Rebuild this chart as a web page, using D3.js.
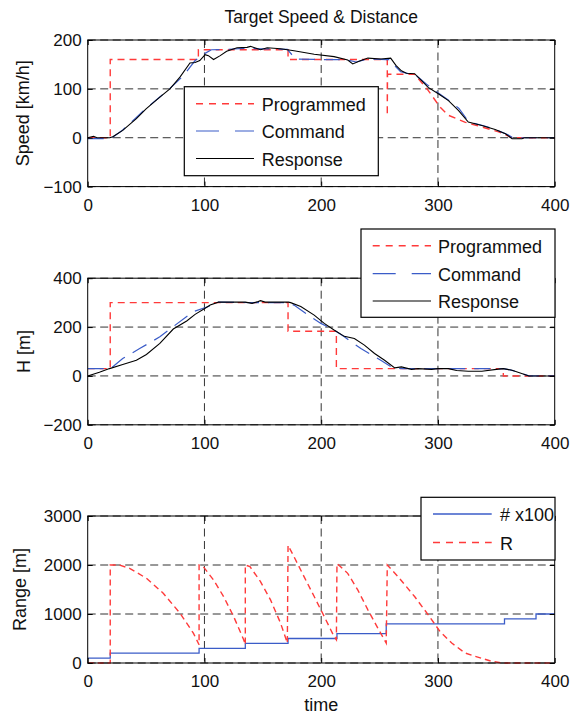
<!DOCTYPE html>
<html>
<head>
<meta charset="utf-8">
<script src="https://cdn.jsdelivr.net/npm/d3@7"></script>
<style>
  html, body { margin: 0; padding: 0; background: #fff; }
  svg { display: block; font-family: "Liberation Sans", Arial, Helvetica, sans-serif; }
</style>
</head>
<body>
<svg id="chart" width="581" height="713"></svg>
<script>
// ---- Data: time [s] / value pairs per series ----
const timeTicks = [0, 100, 200, 300, 400];

// Panel 1: speed [km/h]
const speedTicks = [-100, 0, 100, 200];
const speedProgrammed = [[0,0],[19.3,0],[19.3,160],[94.8,160],[94.8,180],[171.6,180],[171.6,160],[256.6,160],[256.6,45],[256.8,130],[280,130],[291.6,97],[301.7,63],[308.9,46],[323,32],[337.6,22],[352,12],[363.5,0],[400,0]];
const speedCommand = [[0,-2],[19,-2],[22,2],[30,16],[41,40],[50,60],[62,84],[70,100],[82,127],[92,158],[96,165],[100,172],[106,180],[120,181],[135,183],[150,182],[171,181],[178,161],[200,160],[220,160],[230,155],[240,161],[256,160],[259,160],[262,150],[268,135],[275,131],[280,130],[290,110],[300,92],[310,75],[318,60],[324,40],[330,30],[340,24],[350,16],[360,6],[364,0],[400,0]];
const speedResponse = [[0,0],[5,3],[8,0],[19,0],[21.5,2],[30,15],[41.7,39],[50,59],[61.8,83],[70.4,100],[79,124],[87.6,153],[92,154],[96,158],[100.6,170],[103.4,168],[107.8,160],[113.5,168],[119,177],[127.9,184],[136.5,185],[139.4,187],[143,184],[148,180],[153.7,184],[165.2,182],[176.7,178],[194,171],[211,166],[222.7,159],[227,151],[234,158],[240,163],[251,161],[259.5,163],[264,148],[268.7,137],[273,132],[280,131],[286,117],[291.6,103],[300.3,90],[309,76],[317.5,56],[326,32],[337.6,25],[349,17],[357.8,8],[363.5,-2],[372,-2],[374,0],[400,0]];

// Panel 2: distance H [m]
const heightTicks = [-200, 0, 200, 400];
const heightProgrammed = [[0,30],[19.3,30],[19.3,300],[171.6,300],[171.6,183],[213,183],[213,30],[356,30],[356,0],[400,0]];
const heightCommand = [[0,30],[19,30],[22,40],[30,71],[44.5,112],[61.8,160],[73,201],[90.5,263],[103.4,284],[110.6,302],[140,300],[171,300],[176.7,290],[191,242],[199.7,215],[211,188],[219.8,160],[234,112],[251,64],[261.5,33],[270,30],[356,30],[362,25],[378,0],[400,0]];
const heightResponse = [[0,0],[10,15],[18.7,30],[30,47],[41.7,64],[50.3,88],[61.8,133],[73.3,192],[84.8,225],[92,252],[100.6,277],[104.9,290],[112,302],[135,302],[140.8,297],[145,303],[148,308],[152,302],[172,302],[173.8,300],[182.5,284],[194,249],[202.6,215],[211,188],[219.8,162],[228.4,153],[237,126],[245.7,92],[254.3,64],[263,33],[268.7,37],[277.3,27],[283,30],[294.5,27],[300,30],[309,30],[316,22],[326,19],[337.6,19],[350,27],[356,30],[363.5,23],[378,0],[400,0]];

// Panel 3: range [m]
const rangeTicks = [0, 1000, 2000, 3000];
const countSteps = [[0,100],[19.3,200],[95.4,300],[135,400],[171.6,500],[213.5,600],[255.7,800],[357,900],[384,1000],[400,1000]];
const rangeR = [[0,0],[19.3,0],[19.3,2000],[27,2000],[35.9,1932],[50.3,1729],[64.7,1424],[79,1017],[90.5,610],[95.4,373],[95.4,2000],[99,1966],[107.8,1695],[116.4,1356],[125,949],[133.6,475],[135,373],[135,2000],[139,1966],[148,1661],[156.6,1288],[165.2,814],[171,407],[171.6,2400],[176.7,2170],[185.3,1763],[194,1356],[202.6,949],[211,542],[213,475],[213.5,2030],[222.7,1830],[231.3,1492],[240,1085],[248.5,712],[255.7,407],[256.6,2000],[265.8,1763],[280,1356],[291.7,983],[301.7,644],[311.8,407],[323.3,203],[331.9,136],[346,34],[355,0],[400,0]];

// ---- Styles ----
const RED = "#ff3a3a", BLUE = "#3b5cc8", BLACK = "#000";
const styles = {
  programmed: { color: RED, width: 1.4, dash: "7,5", legendDash: "7,6" },
  command: { color: BLUE, width: 1.2, dash: "16,9", legendDash: "23,16" },
  response: { color: BLACK, width: 1.1, dash: null, legendDash: null },
  count: { color: BLUE, width: 1.3, dash: null, legendDash: null, curve: d3.curveStepAfter },
  range: { color: RED, width: 1.4, dash: "6,4", legendDash: "7,6" }
};

const panels = [
  { top: 40, bottom: 186.6, domain: [-100, 200], ticks: speedTicks, ylabel: "Speed [km/h]", ylabelX: 29,
    series: [["programmed", speedProgrammed], ["command", speedCommand], ["response", speedResponse]],
    legend: { x0: 184.3, x1: 378.3, y0: 86.7, y1: 175.7, lineX0: 196, lineX1: 254, textX: 261.7, rows: [103.8, 131, 158.5],
      items: [["programmed", "Programmed"], ["command", "Command"], ["response", "Response"]] } },
  { top: 278.2, bottom: 424.8, domain: [-200, 400], ticks: heightTicks, ylabel: "H [m]", ylabelX: 30,
    series: [["programmed", heightProgrammed], ["command", heightCommand], ["response", heightResponse]],
    legend: { x0: 361, x1: 555, y0: 229, y1: 317.3, lineX0: 372.7, lineX1: 431, textX: 438, rows: [245.7, 273.7, 301],
      items: [["programmed", "Programmed"], ["command", "Command"], ["response", "Response"]] } },
  { top: 516, bottom: 663, domain: [0, 3000], ticks: rangeTicks, ylabel: "Range [m]", ylabelX: 26,
    series: [["count", countSteps], ["range", rangeR]],
    legend: { x0: 421, x1: 555, y0: 497.3, y1: 560, lineX0: 433, lineX1: 491.7, textX: 500, rows: [514, 542.5],
      items: [["count", "# x100"], ["range", "R"]] } }
];

const svg = d3.select("#chart");
svg.append("rect").attr("width", 581).attr("height", 713).attr("fill", "#fff");

const left = 87.7, right = 554.7;
const x = d3.scaleLinear().domain([0, 400]).range([left, right]);

svg.append("text")
  .attr("x", (left + right) / 2).attr("y", 22.5)
  .attr("text-anchor", "middle").attr("font-size", 17.5).attr("fill", "#111")
  .text("Target Speed & Distance");

panels.forEach((p, i) => {
  const y = d3.scaleLinear().domain(p.domain).range([p.bottom, p.top]);
  const g = svg.append("g");

  const clipId = "clip" + i;
  g.append("clipPath").attr("id", clipId)
    .append("rect").attr("x", left).attr("y", p.top - 1)
    .attr("width", right - left).attr("height", p.bottom - p.top + 2);

  // dashed grid at every tick
  const grid = g.append("g").attr("stroke", "#333").attr("stroke-width", 1).attr("stroke-dasharray", "8,4.5");
  grid.append("g").selectAll("line").data(timeTicks.slice(1, -1)).join("line")
    .attr("x1", d => x(d)).attr("x2", d => x(d)).attr("y1", p.top).attr("y2", p.bottom);
  grid.append("g").selectAll("line").data(p.ticks).join("line")
    .attr("x1", left).attr("x2", right).attr("y1", d => y(d)).attr("y2", d => y(d));

  // data lines
  const dataG = g.append("g").attr("clip-path", `url(#${clipId})`);
  p.series.forEach(([key, pts]) => {
    const s = styles[key];
    const line = d3.line().x(d => x(d[0])).y(d => y(d[1])).curve(s.curve || d3.curveLinear);
    dataG.append("path").datum(pts)
      .attr("d", line).attr("fill", "none")
      .attr("stroke", s.color).attr("stroke-width", s.width)
      .attr("stroke-dasharray", s.dash);
  });

  // axes with inward ticks on all four sides
  const fontSize = 17;
  const bottomAxis = g.append("g").attr("transform", `translate(0,${p.bottom})`)
    .call(d3.axisBottom(x).tickValues(timeTicks).tickSize(-5).tickPadding(12).tickFormat(d3.format("d")));
  const leftAxis = g.append("g").attr("transform", `translate(${left},0)`)
    .call(d3.axisLeft(y).tickValues(p.ticks).tickSize(-5).tickPadding(6).tickFormat(d3.format("d")));
  g.append("g").attr("transform", `translate(0,${p.top})`)
    .call(d3.axisTop(x).tickValues(timeTicks).tickSize(-5).tickFormat(""));
  g.append("g").attr("transform", `translate(${right},0)`)
    .call(d3.axisRight(y).tickValues(p.ticks).tickSize(-5).tickFormat(""));
  g.selectAll(".domain").remove();
  g.selectAll(".tick line").attr("stroke", "#000");
  [bottomAxis, leftAxis].forEach(a => a.selectAll("text")
    .attr("font-size", fontSize).attr("fill", "#111")
    .attr("font-family", "Liberation Sans, Arial, Helvetica, sans-serif"));

  g.append("rect").attr("x", left).attr("y", p.top)
    .attr("width", right - left).attr("height", p.bottom - p.top)
    .attr("fill", "none").attr("stroke", "#000").attr("stroke-width", 1);

  // y label
  g.append("text")
    .attr("transform", `translate(${p.ylabelX},${(p.top + p.bottom) / 2}) rotate(-90)`)
    .attr("text-anchor", "middle").attr("font-size", 18).attr("fill", "#111")
    .text(p.ylabel);

  // legend
  const L = p.legend;
  const lg = svg.append("g");
  lg.append("rect").attr("x", L.x0).attr("y", L.y0)
    .attr("width", L.x1 - L.x0).attr("height", L.y1 - L.y0)
    .attr("fill", "#fff").attr("stroke", "#000").attr("stroke-width", 1.2);
  L.items.forEach(([key, label], k) => {
    const s = styles[key];
    const ry = L.rows[k];
    lg.append("line").attr("x1", L.lineX0).attr("x2", L.lineX1).attr("y1", ry).attr("y2", ry)
      .attr("stroke", s.color).attr("stroke-width", s.width).attr("stroke-dasharray", s.legendDash);
    lg.append("text").attr("x", L.textX).attr("y", ry + 7.3)
      .attr("font-size", 18).attr("fill", "#111").text(label);
  });
});

// x label
svg.append("text")
  .attr("x", (left + right) / 2).attr("y", 710.5)
  .attr("text-anchor", "middle").attr("font-size", 18).attr("fill", "#111")
  .text("time");
</script>
</body>
</html>
